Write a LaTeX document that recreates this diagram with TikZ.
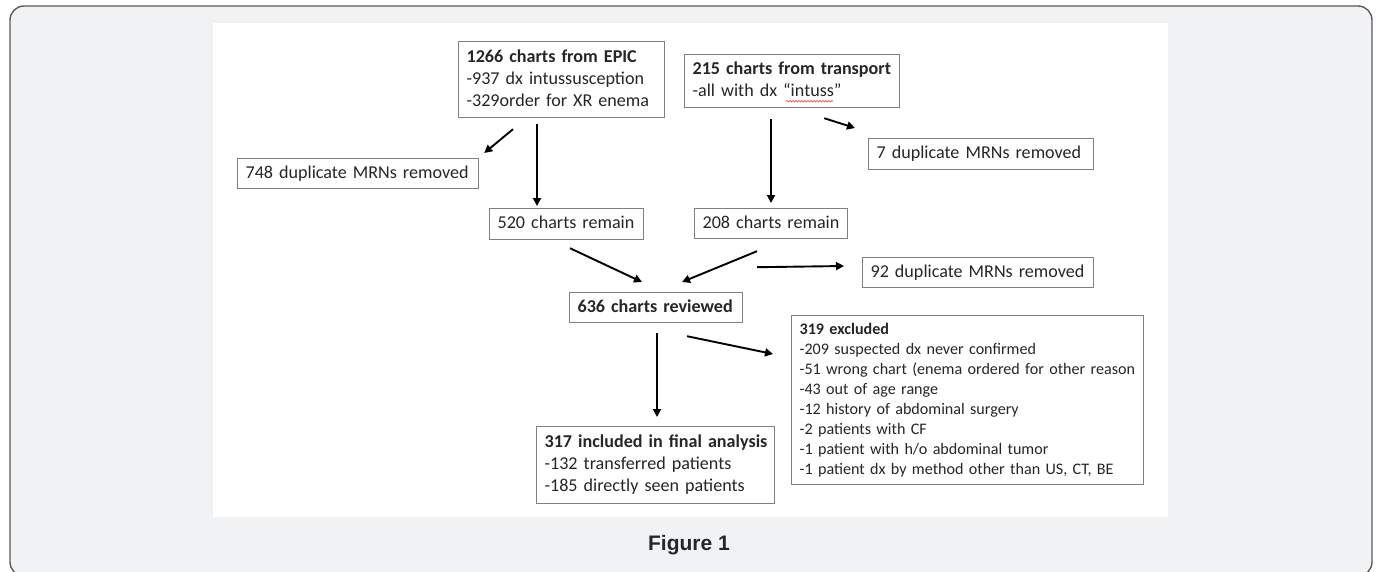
\documentclass[tikz,border=0pt]{standalone}
\usepackage{fontspec}
\setmainfont{Carlito}
\newfontfamily\figfont{Liberation Sans}
\usetikzlibrary{arrows.meta,decorations.pathmorphing}
\definecolor{framegray}{HTML}{5A5A5A}
\definecolor{bggray}{HTML}{F1F2F4}
\definecolor{boxgray}{HTML}{808080}
\definecolor{txt}{HTML}{262626}
\newcommand{\fsA}{\fontsize{18.1}{22}\selectfont}
\newcommand{\fsB}{\fontsize{16.1}{20}\selectfont}
\newenvironment{lns}{\begin{tabular}{@{}l@{}}}{\end{tabular}}
\tikzset{
  bx/.style={draw=boxgray, line width=1.2pt, anchor=north west, inner xsep=8pt,
    inner ysep=0pt, text=txt, font=\fsA},
  arr/.style={draw=black, line width=1.9pt, -{Triangle[length=8pt,width=8pt]}},
}
\begin{document}
\begin{tikzpicture}[x=1pt,y=-1pt]
\useasboundingbox (0,0) rectangle (1378,571);
\fill[white] (0,0) rectangle (1378,571);
\draw[framegray, fill=bggray, line width=1.4pt, rounded corners=14pt] (10,6) rectangle (1372,576);
\fill[white] (213,23) rectangle (1168,517);

\node[bx, text width=190pt, minimum height=76pt] (A) at (458,41)
  {\begin{lns}\textbf{1266 charts from EPIC}\\-937 dx intussusception\\-329order for XR enema\end{lns}};
\node[bx, text width=199pt, minimum height=53pt] (B) at (684,54)
  {\begin{lns}\textbf{215 charts from transport}\\-all with dx “intuss”\end{lns}};
\node[bx, text width=225pt, minimum height=30pt] (D748) at (237,158) {\begin{lns}748 duplicate MRNs removed\end{lns}};
\node[bx, text width=209pt, minimum height=31pt] (D7) at (868,138) {\begin{lns}7 duplicate MRNs removed\end{lns}};
\node[bx, text width=138pt, minimum height=31pt] (R520) at (489,208) {\begin{lns}520 charts remain\end{lns}};
\node[bx, text width=137pt, minimum height=30pt] (R208) at (694,208) {\begin{lns}208 charts remain\end{lns}};
\node[bx, text width=215pt, minimum height=30pt] (D92) at (862,257) {\begin{lns}92 duplicate MRNs removed\end{lns}};
\node[bx, text width=157pt, minimum height=30pt] (C636) at (569,292) {\begin{lns}\textbf{636 charts reviewed}\end{lns}};
\node[bx, text width=222pt, minimum height=77pt] (F317) at (536,426)
  {\begin{lns}\textbf{317 included in final analysis}\\-132 transferred patients\\-185 directly seen patients\end{lns}};
\node[bx, text width=336pt, minimum height=169pt, font=\fsB] (X319) at (791,315)
  {\begin{lns}\textbf{319 excluded}\\-209 suspected dx never confirmed\\-51 wrong chart (enema ordered for other reason\\-43 out of age range\\-12 history of abdominal surgery\\-2 patients with CF\\-1 patient with h/o abdominal tumor\\-1 patient dx by method other than US, CT, BE\end{lns}};

% spell-check underline
\draw[red!80, line width=0.6pt, decorate, decoration={snake, amplitude=0.7pt, segment length=3pt}]
  ([xshift=102pt,yshift=7pt]B.south west) -- ([xshift=149pt,yshift=7pt]B.south west);

\draw[arr] ([xshift=55pt,yshift=-11pt]A.south west) -- ([xshift=5pt,yshift=5pt]D748.north east);
\draw[arr] ([xshift=79pt,yshift=-6pt]A.south west) -- ([xshift=48pt,yshift=2pt]R520.north west);
\draw[arr] ([xshift=87pt,yshift=-11pt]B.south west) -- ([xshift=77pt,yshift=5pt]R208.north west);
\draw[arr] ([xshift=-76pt,yshift=-10pt]B.south east) -- ([xshift=-13pt,yshift=10pt]D7.north west);
\draw[arr] ([xshift=81pt,yshift=-8pt]R520.south west) -- ([xshift=73pt,yshift=10pt]C636.north west);
\draw[arr] ([xshift=63pt,yshift=-12pt]R208.south west) -- ([xshift=113pt,yshift=10pt]C636.north west);
\draw[arr] ([xshift=63pt,yshift=-28pt]R208.south west) -- ([xshift=-18pt,yshift=-9pt]D92.north west);
\draw[arr] ([xshift=88pt,yshift=-10pt]C636.south west) -- ([xshift=121pt,yshift=9pt]F317.north west);
\draw[arr] ([xshift=118pt,yshift=-13pt]C636.south west) -- ([xshift=-18pt,yshift=-39pt]X319.north west);

\node[font=\figfont\bfseries\fontsize{21}{24}\selectfont, text=txt, inner sep=0pt, anchor=base] (fig) at (689,550) {Figure 1};
\end{tikzpicture}
\end{document}
